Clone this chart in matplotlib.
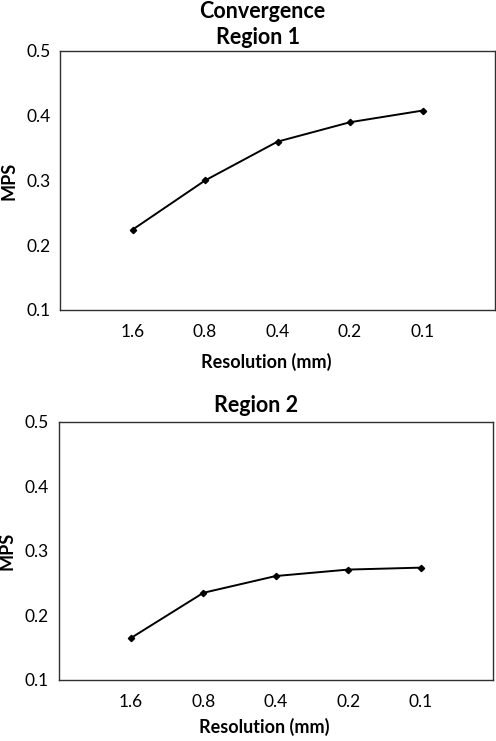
import matplotlib
matplotlib.use("Agg")
import matplotlib.pyplot as plt

plt.rcParams['font.family'] = ['Lato', 'DejaVu Sans']

categories = ["1.6", "0.8", "0.4", "0.2", "0.1"]
region1 = [0.224, 0.300, 0.360, 0.390, 0.408]
region2 = [0.165, 0.235, 0.261, 0.271, 0.274]
yticks = [0.1, 0.2, 0.3, 0.4, 0.5]

W, H = 496, 741
fig = plt.figure(figsize=(W / 100, H / 100), dpi=100)
fig.patch.set_facecolor('white')


def make_axes(rect, values, xlabel_y):
    ax = fig.add_axes(rect)
    x = list(range(1, len(categories) + 1))
    ax.plot(x, values, color='black', lw=1.4, marker='D', ms=3.2,
            markerfacecolor='black', markeredgecolor='black')
    ax.set_xlim(0, len(categories) + 1)
    ax.set_ylim(0.1, 0.5)
    ax.set_xticks(x)
    ax.set_xticklabels(categories)
    ax.set_yticks(yticks)
    ax.set_yticklabels([f"{v:.1f}" for v in yticks])
    ax.tick_params(length=0, labelsize=12.5, colors='black')
    ax.tick_params(axis='x', pad=10)
    ax.tick_params(axis='y', pad=7)
    for s in ax.spines.values():
        s.set_color('#303030')
        s.set_linewidth(1.0)
    ax.set_xlabel("Resolution (mm)", fontsize=13, fontweight='bold')
    ax.xaxis.set_label_coords(0.474, xlabel_y)
    ax.xaxis.label.set_va('center')
    ax.set_ylabel("MPS", fontsize=13, fontweight='bold')
    ax.yaxis.set_label_coords(-0.118, 0.5)
    ax.yaxis.label.set_va('center')
    return ax


ax1 = make_axes([60 / W, 1 - 310 / H, 435 / W, 259 / H], region1, -0.2)
ax2 = make_axes([58.5 / W, 1 - 680 / H, 434.5 / W, 258.3 / H], region2, -0.183)

fig.text(262 / W, 1 - 11 / H, "Convergence", ha='center', va='center',
         fontsize=15.5, fontweight='bold')
fig.text(258 / W, 1 - 37 / H, "Region 1", ha='center', va='center',
         fontsize=15.5, fontweight='bold')
fig.text(256 / W, 1 - 405 / H, "Region 2", ha='center', va='center',
         fontsize=15.5, fontweight='bold')

fig.savefig("out.png", dpi=100, facecolor='white')
